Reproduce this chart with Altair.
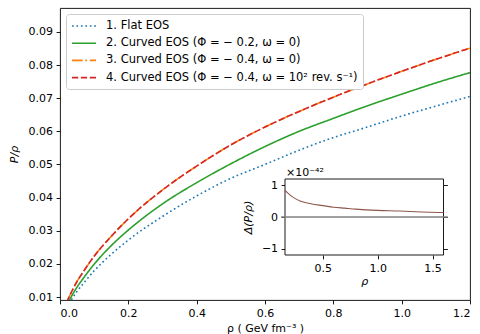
import altair as alt
import pandas as pd

# ---- main panel data ----
rho = [0.02, 0.03, 0.05, 0.07, 0.1, 0.15, 0.2, 0.3, 0.4, 0.5, 0.6, 0.7, 0.8, 0.9, 1.0, 1.1, 1.2]
flat_eos = [0.0068, 0.0086, 0.0117, 0.0143, 0.0179, 0.0229, 0.0272, 0.0343, 0.0405, 0.0458,
            0.0500, 0.0543, 0.0581, 0.0613, 0.0646, 0.0676, 0.0705]
curved_02 = [0.0074, 0.0095, 0.0130, 0.0159, 0.0199, 0.0255, 0.0302, 0.0381, 0.0445, 0.0502,
             0.0554, 0.0600, 0.0639, 0.0677, 0.0712, 0.0746, 0.0777]
curved_04 = [0.0084, 0.01075, 0.0147, 0.0179, 0.0223, 0.0283, 0.0336, 0.0423, 0.0495, 0.0559,
             0.0613, 0.0660, 0.0703, 0.0743, 0.0781, 0.0817, 0.0851]
curved_04_rot = [0.0084, 0.01075, 0.0147, 0.0179, 0.0223, 0.0283, 0.0336, 0.0423, 0.0495, 0.0559,
                 0.0613, 0.0660, 0.0703, 0.0743, 0.0781, 0.0817, 0.0851]

series_names = [
    "1. Flat EOS",
    "2. Curved EOS (Φ = − 0.2, ω = 0)",
    "3. Curved EOS (Φ = − 0.4, ω = 0)",
    "4. Curved EOS (Φ = − 0.4, ω = 10² rev. s⁻¹)",
]
series_values = [flat_eos, curved_02, curved_04, curved_04_rot]
colors = ["#1f77b4", "#2ca02c", "#ff7f0e", "#d62728"]
dashes = [[1.7, 2.75], [1, 0], [10.7, 2.7, 1.7, 2.7], [6.2, 2.7]]

x_ticks = [0.0, 0.2, 0.4, 0.6, 0.8, 1.0, 1.2]
y_ticks = [0.01, 0.02, 0.03, 0.04, 0.05, 0.06, 0.07, 0.08, 0.09]
x_lim = [0.0, 1.2]
y_lim = [0.0091, 0.0972]

# ---- inset data ----
inset_rho = [0.156, 0.2, 0.25, 0.3, 0.4, 0.5, 0.6, 0.7, 0.8, 1.0, 1.2, 1.4, 1.6]
inset_dp = [0.84, 0.70, 0.58, 0.50, 0.41, 0.36, 0.31, 0.28, 0.25, 0.21, 0.19, 0.16, 0.14]
inset_xlim = [0.156, 1.6]
inset_ylim = [-1.2, 1.2]
inset_xticks = [0.5, 1.0, 1.5]
inset_yticks = [-1, 0, 1]
zero_line_x = [0.121, 1.639]

FONT = "DejaVu Sans"
FS = 11

rows = []
for name, vals in zip(series_names, series_values):
    for r, v in zip(rho, vals):
        rows.append({"rho": r, "val": v, "series": name})
df = pd.DataFrame(rows)

legend = alt.Legend(
    title=None, orient="top-left", offset=6, padding=5,
    fillColor="white", strokeColor="#cccccc", cornerRadius=3,
    symbolType="M-2,0H2", symbolSize=144, symbolStrokeWidth=1.6, symbolOffset=6,
    labelFontSize=11.5, labelFont=FONT, labelColor="black",
    rowPadding=4.2, labelOffset=15, labelLimit=400,
)

main = alt.Chart(df).mark_line(clip=True, strokeWidth=1.6, interpolate="monotone").encode(
    x=alt.X("rho:Q", scale=alt.Scale(domain=x_lim, nice=False, zero=False),
            axis=alt.Axis(values=x_ticks, format=".1f", title="ρ ( GeV fm⁻³ )",
                          domain=False, titlePadding=4)),
    y=alt.Y("val:Q", scale=alt.Scale(domain=y_lim, nice=False, zero=False),
            axis=alt.Axis(values=y_ticks, format=".2f", title="P/ρ", titleFontStyle="italic",
                          domain=False, titlePadding=9)),
    color=alt.Color("series:N", scale=alt.Scale(domain=series_names, range=colors), legend=legend),
    strokeDash=alt.StrokeDash("series:N", scale=alt.Scale(domain=series_names, range=dashes), legend=legend),
)

ix_scale = alt.Scale(domain=inset_xlim, range=[225, 383.5], nice=False, zero=False)
iy_scale = alt.Scale(domain=inset_ylim, range=[247, 171], nice=False, zero=False)

frame_df = pd.DataFrame({"x": [inset_xlim[0]], "x2": [inset_xlim[1]],
                         "y": [inset_ylim[0]], "y2": [inset_ylim[1]]})
frame = alt.Chart(frame_df).mark_rect(fill="white", stroke="black", strokeWidth=0.9).encode(
    x=alt.X("x:Q", scale=ix_scale, axis=None), x2="x2",
    y=alt.Y("y:Q", scale=iy_scale,
            axis=alt.Axis(orient="right", offset=-26.5, values=inset_yticks, labels=False,
                          domain=False, title=None)),
    y2="y2",
)

ix_axis = alt.Axis(orient="bottom", offset=-45, values=inset_xticks, format=".1f", title="ρ",
                   titleFontStyle="italic", domain=False, titlePadding=2)
iy_axis = alt.Axis(orient="left", offset=-225, values=inset_yticks, format="d", title="Δ(P/ρ)",
                   titleFontStyle="italic", domain=False, titlePadding=8)

zero_df = pd.DataFrame({"x": [zero_line_x[0]], "x2": [zero_line_x[1]], "y": [0]})
zero = alt.Chart(zero_df).mark_rule(color="#808080", strokeWidth=1.6, clip=False).encode(
    x=alt.X("x:Q", scale=ix_scale, axis=ix_axis), x2="x2",
    y=alt.Y("y:Q", scale=iy_scale, axis=iy_axis),
)
inset_df = pd.DataFrame({"x": inset_rho, "y": inset_dp})
curve = alt.Chart(inset_df).mark_line(color="#8c564b", strokeWidth=1.1, interpolate="monotone").encode(
    x=alt.X("x:Q", scale=ix_scale, axis=ix_axis),
    y=alt.Y("y:Q", scale=iy_scale, axis=iy_axis),
)
exp_df = pd.DataFrame({"x": [inset_xlim[0]], "y": [inset_ylim[1]], "t": ["×10⁻⁴²"]})
exp_text = alt.Chart(exp_df).mark_text(align="left", baseline="bottom", dx=1, dy=-1,
                                       fontSize=FS, font=FONT, color="black").encode(
    x=alt.X("x:Q", scale=ix_scale, axis=ix_axis),
    y=alt.Y("y:Q", scale=iy_scale, axis=iy_axis),
    text="t:N",
)
inset = alt.layer(zero, curve, exp_text)

chart = alt.layer(main, frame, inset).resolve_scale(
    x="independent", y="independent"
).properties(
    width=410, height=292,
    padding={"left": 60, "top": 8, "right": 10, "bottom": 34},
    autosize=alt.AutoSizeParams(type="none"),
).configure_view(
    stroke="black", strokeWidth=0.9
).configure_axis(
    labelFont=FONT, labelFontSize=FS, labelColor="black",
    titleFont=FONT, titleFontSize=FS, titleFontWeight="normal", titleColor="black",
    tickSize=3.9, tickColor="black", tickWidth=0.9, labelPadding=3.5, grid=False,
)

chart.save("out.html", embed_options={"renderer": "svg", "actions": False})
